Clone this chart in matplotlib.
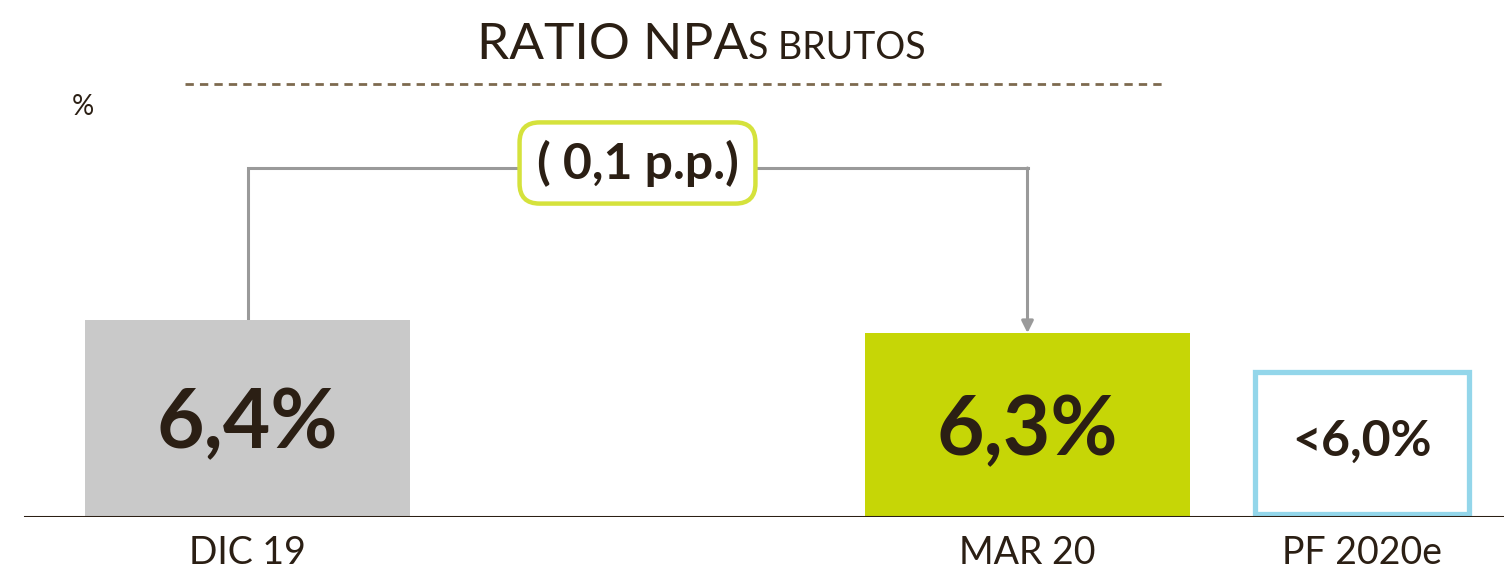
import matplotlib
matplotlib.use('Agg')
import matplotlib.pyplot as plt
from matplotlib.lines import Line2D
from matplotlib.transforms import offset_copy

plt.rcParams['font.family'] = ['Lato', 'DejaVu Sans']

# data
categories = ['DIC 19', 'MAR 20', 'PF 2020e']
values = [6.4, 6.3, 6.0]
value_labels = ['6,4%', '6,3%', '<6,0%']
change_label = '( 0,1 p.p.)'

TEXT = '#2b1f14'
base = 4.885          # value at the axis line (truncated scale)
px_per_unit = 130.0   # vertical pixels per percentage point

W, H = 1504, 571
fig = plt.figure(figsize=(W / 100, H / 100), dpi=100)

# axes: full width, baseline 54 px above the bottom edge
ax = fig.add_axes([0, 54 / H, 1, 517 / H])
xpos = [0, 2.4, 3.43]
widths = [1.0, 1.0, 0.67]
ax.set_xlim(-247.5 / 325, (W - 247.5) / 325)
ax.set_ylim(base, base + 517 / px_per_unit)
for s in ax.spines.values():
    s.set_visible(False)
ax.set_yticks([])

heights = [v - base for v in values]
ax.bar(xpos[:2], heights[:2], width=widths[:2], bottom=base,
       color=['#c9c9c9', '#c6d606'], zorder=2)
ax.bar(xpos[2], heights[2] - 0.02, width=widths[2] - 0.012, bottom=base + 0.02,
       color='white', edgecolor='#93d6ea', linewidth=3.8, zorder=2)

# baseline
ax.axhline(base, xmin=25 / W, xmax=1, color=TEXT, lw=2.2, zorder=3)

# value labels
sizes = [59, 59, 36]
ys = [base + (517 - 425) / px_per_unit, base + (517 - 432) / px_per_unit,
      base + (517 - 441) / px_per_unit]
for x, y, lab, fs in zip(xpos, ys, value_labels, sizes):
    ax.text(x, y, lab, ha='center', va='center', fontsize=fs,
            fontweight='bold', color=TEXT, zorder=4)

# category labels
ax.set_xticks(xpos)
ax.set_xticklabels(categories, fontsize=27, color=TEXT)
ax.tick_params(axis='x', length=0, pad=13)

# change bracket from DIC 19 to MAR 20
y_top = base + (517 - 168) / px_per_unit
ax.plot([xpos[0], xpos[0], xpos[1]], [values[0], y_top, y_top],
        color='#9a9a9a', lw=2.2, solid_joinstyle='miter', zorder=1)
ax.annotate('', xy=(xpos[1], values[1]), xytext=(xpos[1], y_top),
            arrowprops=dict(arrowstyle='-|>,head_length=0.7,head_width=0.35',
                            color='#9a9a9a', lw=2.2, shrinkA=0, shrinkB=0),
            zorder=1)
ax.text((515 + 760) / 2 / 325 - 247.5 / 325, base + (517 - 163) / px_per_unit,
        change_label, ha='center', va='center', fontsize=36,
        fontweight='bold', color=TEXT, zorder=5,
        bbox=dict(boxstyle='round,pad=0.34,rounding_size=0.4', fc='white',
                  ec='#d5e23c', lw=3.2))

# title: large "RATIO NPA" followed by small-caps "S BRUTOS"
t1 = fig.text(477 / W, 1 - 59 / H, 'RATIO NPA', fontsize=37, color=TEXT,
              va='baseline', ha='left')
fig.canvas.draw()
bb = t1.get_window_extent()
fig.text(bb.x1 / W, 1 - 59 / H, 'S BRUTOS', fontsize=27, color=TEXT,
         va='baseline', ha='left')
fig.add_artist(Line2D([185 / W, 1162 / W], [1 - 84 / H, 1 - 84 / H],
                      transform=fig.transFigure, color='#7d6a4f', lw=2.0,
                      linestyle=(0, (3, 2.2))))
fig.text(72 / W, 1 - 107 / H, '%', fontsize=20, color=TEXT,
         va='center', ha='left')

fig.savefig('out.png', dpi=100, facecolor='white')
